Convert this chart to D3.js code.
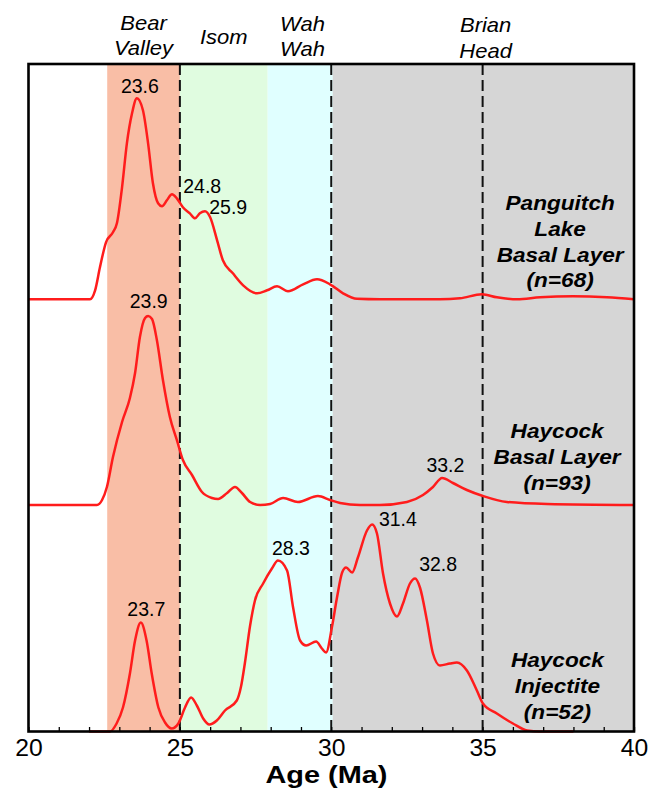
<!DOCTYPE html>
<html><head><meta charset="utf-8">
<script src="https://cdn.jsdelivr.net/npm/d3@7"></script>
<style>html,body{margin:0;padding:0;background:#fff;} svg{display:block;}</style>
</head><body><svg id="chart" width="651" height="792"></svg>
<script>
// ---------- DATA ----------
const xDomain = [20, 40];
const minorTicks = d3.range(20, 41, 1);
const majorTicks = [20, 25, 30, 35, 40];
const axisTitle = "Age (Ma)";

// Formation bands (Ma)
const bandNames = [["Bear", "Valley"], ["Isom"], ["Wah", "Wah"], ["Brian", "Head"]];
const bandStart = [22.6, 25, 27.9, 30.05];
const bandEnd = [25, 27.9, 30.05, 40];
const bandColors = ["#f9bea6", "#e0fce0", "#e0ffff", "#d6d6d6"];
const bandLabelAge = [23.8, 26.45, 29.05, 35.1];
const boundaryAges = [25, 30, 35];

// Probability density curves (relative probability, arbitrary units)
const pangAge = [20.0, 22.03, 22.20, 22.36, 22.56, 22.79, 22.92, 23.09, 23.25, 23.42, 23.58, 23.78, 23.95, 24.11, 24.28, 24.41, 24.57, 24.74, 24.90, 25.10, 25.33, 25.50, 25.66, 25.83, 26.00, 26.23, 26.42, 26.75, 27.09, 27.55, 27.88, 28.21, 28.57, 29.07, 29.53, 29.96, 30.39, 30.85, 31.61, 33.59, 34.25, 34.98, 35.47, 36.14, 36.90, 37.98, 39.11, 40.0];
const pangDens = [0, 0, 9, 32, 57, 67, 76, 112, 156, 186, 201, 189, 156, 116, 96, 93, 99, 105, 101, 92, 86, 81, 86, 88, 82, 59, 39, 26, 14, 6, 9, 13, 8, 15, 20, 15, 6, 0.5, 0, 0, 1, 5, 2, 0, 2, 3, 2, 0];

const hbAge = [20.0, 22.26, 22.43, 22.59, 22.79, 23.09, 23.35, 23.52, 23.68, 23.85, 23.95, 24.08, 24.24, 24.44, 24.67, 24.90, 25.10, 25.40, 25.73, 26.06, 26.26, 26.56, 26.82, 27.05, 27.32, 27.65, 27.98, 28.41, 28.90, 29.56, 29.96, 30.29, 30.95, 31.61, 32.50, 33.03, 33.36, 33.66, 34.02, 34.48, 35.01, 35.80, 37.13, 40.0];
const hbDens = [0, 0, 5, 18, 48, 83, 107, 132, 168, 187, 189, 186, 165, 125, 88, 65, 45, 30, 13, 7, 6, 12, 18, 12, 3, 0, 1, 7, 3, 9, 5, 2, 0, 0, 3, 10, 18, 27, 22, 15, 9, 3, 1, 0];

const hiAge = [22.0, 22.69, 22.91, 23.12, 23.35, 23.52, 23.71, 23.90, 24.07, 24.29, 24.51, 24.73, 24.95, 25.17, 25.37, 25.56, 25.77, 25.97, 26.22, 26.49, 26.88, 27.02, 27.15, 27.32, 27.48, 27.75, 28.04, 28.24, 28.54, 28.74, 28.97, 29.17, 29.50, 29.69, 29.83, 30.02, 30.19, 30.36, 30.49, 30.69, 30.88, 31.18, 31.35, 31.51, 31.71, 31.94, 32.17, 32.37, 32.60, 32.77, 32.93, 33.16, 33.36, 33.59, 33.92, 34.15, 34.48, 34.81, 35.01, 35.47, 36.00, 36.47, 36.90, 38.0];
const hiDens = [0, 0, 8, 24, 58, 91, 109, 91, 58, 24, 9, 3, 8, 24, 34, 26, 13, 7, 11, 21, 31, 45, 69, 106, 131, 148, 163, 171, 161, 124, 91, 86, 90, 83, 79, 104, 134, 159, 164, 159, 174, 201, 207, 198, 158, 128, 115, 128, 148, 153, 144, 111, 78, 66, 68, 69, 61, 41, 28, 18, 8, 1, 0, 0];

const seriesNames = [["Panguitch", "Lake", "Basal Layer", "(n=68)"], ["Haycock", "Basal Layer", "(n=93)"], ["Haycock", "Injectite", "(n=52)"]];
const seriesLabelAge = [37.56, 37.46, 37.47];
const seriesLabelTop = [89.3, 66.7, 64.2];

// Peak annotations
const peakText = ["23.6", "24.8", "25.9", "23.9", "33.2", "28.3", "31.4", "32.8", "23.7"];
const peakPanel = [0, 0, 0, 1, 1, 2, 2, 2, 2];
const peakAge = [23.68, 25.11, 25.97, 23.97, 33.77, 28.67, 32.2, 33.53, 23.89];
const peakHeight = [206, 106, 85, 196.7, 33.3, 176.5, 205.5, 160.8, 115.8];
const peakAnchor = ["middle", "start", "start", "middle", "middle", "middle", "middle", "middle", "middle"];

// ---------- LAYOUT ----------
const L = 28.5, R = 634, T = 64, B = 731.5;
const panelBase = [299.3, 505, 731.5];
const FONT = "'Liberation Sans', Arial, Helvetica, sans-serif";

const svg = d3.select("#chart");
const x = d3.scaleLinear().domain(xDomain).range([L, R]);
const yPanels = panelBase.map(b => d3.scaleLinear().domain([0, 100]).range([b, b - 100]));

// bands
svg.append("g").selectAll("rect").data(bandStart).join("rect")
  .attr("x", (d) => x(d))
  .attr("y", T)
  .attr("width", (d, i) => x(bandEnd[i]) - x(d))
  .attr("height", B - T)
  .attr("fill", (d, i) => bandColors[i]);

// boundary dashed lines
svg.append("g").selectAll("line").data(boundaryAges).join("line")
  .attr("x1", d => x(d)).attr("x2", d => x(d))
  .attr("y1", T).attr("y2", B)
  .attr("stroke", "#111").attr("stroke-width", 2)
  .attr("stroke-dasharray", "11,5");

// curves
const series = [
  {age: pangAge, dens: pangDens},
  {age: hbAge, dens: hbDens},
  {age: hiAge, dens: hiDens}
];
series.forEach((s, i) => {
  const y = yPanels[i];
  const line = d3.line().x(d => x(d[0])).y(d => y(d[1])).curve(d3.curveMonotoneX);
  svg.append("path").datum(d3.zip(s.age, s.dens))
    .attr("d", line).attr("fill", "none")
    .attr("stroke", "#ff1c1c").attr("stroke-width", 2.5)
    .attr("stroke-linejoin", "round");
});

// axis ticks (inward)
const minorAxis = d3.axisBottom(x).tickValues(minorTicks).tickSize(-4.5).tickFormat("");
const ga = svg.append("g").attr("transform", `translate(0,${B})`).call(minorAxis);
ga.select(".domain").remove();
ga.selectAll("line").attr("stroke", "#000").attr("stroke-width", 1.3);

const labAxis = d3.axisBottom(x).tickValues(majorTicks).tickSize(0).tickPadding(7).tickFormat(d3.format("d"));
const gl = svg.append("g").attr("transform", `translate(0,${B})`).call(labAxis);
gl.select(".domain").remove();
gl.selectAll("text").attr("font-family", FONT).attr("font-size", 24.7).attr("fill", "#000");

// frame
svg.append("rect").attr("x", L).attr("y", T).attr("width", R - L).attr("height", B - T)
  .attr("fill", "none").attr("stroke", "#000").attr("stroke-width", 2.6);

// axis title
svg.append("g").attr("transform", `translate(${x(29.84)},783.3)`)
  .append("text").attr("transform", "scale(1.17,1)")
  .attr("text-anchor", "middle").attr("font-family", FONT)
  .attr("font-weight", "bold").attr("font-size", 24.7).text(axisTitle);

// band labels
const bandBase = [[29.5, 54.5], [43.5], [30.5, 56], [32, 57.5]];
bandNames.forEach((lines, i) => {
  lines.forEach((t, j) => {
    svg.append("g").attr("transform", `translate(${x(bandLabelAge[i])},${bandBase[i][j]})`)
      .append("text").attr("transform", "scale(1.1,1)")
      .attr("text-anchor", "middle").attr("font-family", FONT)
      .attr("font-style", "italic").attr("font-size", 20).text(t);
  });
});

// peak labels
peakText.forEach((t, i) => {
  svg.append("text")
    .attr("x", x(peakAge[i]))
    .attr("y", yPanels[peakPanel[i]](peakHeight[i]))
    .attr("text-anchor", peakAnchor[i])
    .attr("font-family", FONT).attr("font-size", 19.5).attr("fill", "#000")
    .text(t);
});

// series labels
seriesNames.forEach((lines, i) => {
  const y0 = yPanels[i](seriesLabelTop[i]);
  lines.forEach((t, j) => {
    svg.append("g").attr("transform", `translate(${x(seriesLabelAge[i])},${y0 + j * 25.8})`)
      .append("text").attr("transform", "scale(1.16,1)")
      .attr("text-anchor", "middle").attr("font-family", FONT)
      .attr("font-weight", "bold").attr("font-style", "italic")
      .attr("font-size", 19.5).text(t);
  });
});
</script></body></html>
